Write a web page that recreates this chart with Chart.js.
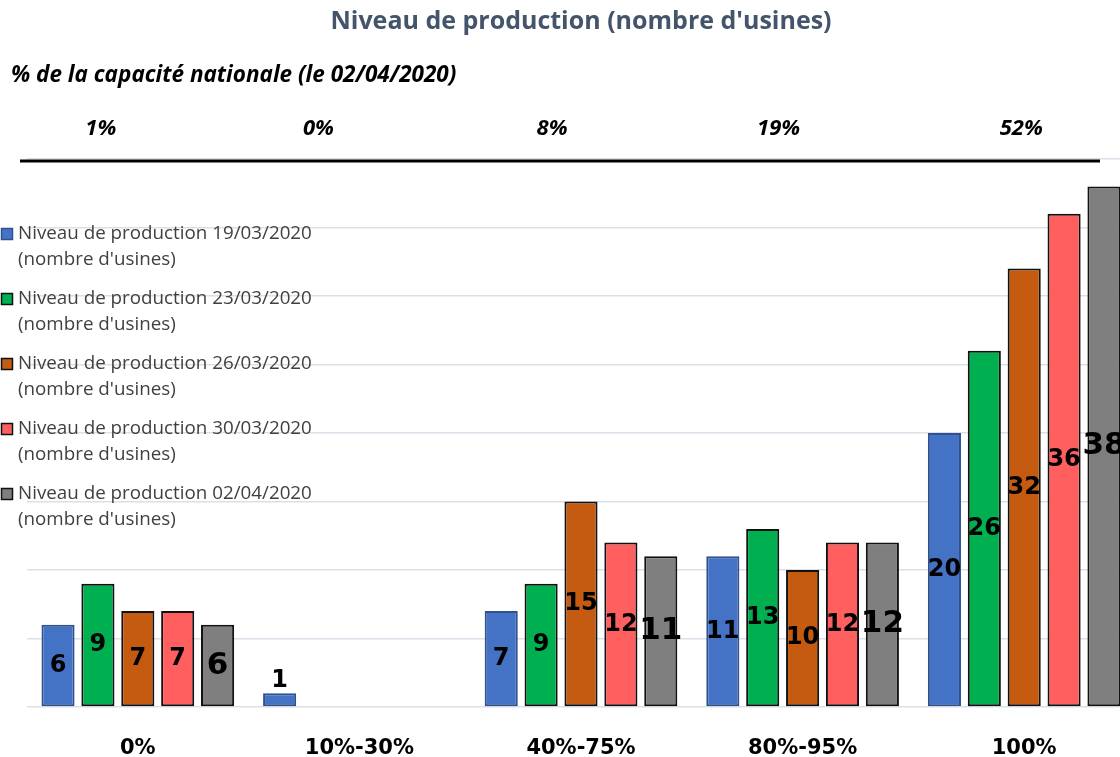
<!DOCTYPE html>
<html>
<head>
<meta charset="utf-8">
<script src="https://cdn.jsdelivr.net/npm/chart.js@4"></script>
<style>
  html, body { margin: 0; padding: 0; background: #fff; overflow: hidden; }
  #wrap { width: 1135px; height: 757px; position: relative; }
</style>
</head>
<body>
<div id="wrap"><canvas id="prodChart"></canvas></div>
<script>
// values
const categories = ['0%', '10%-30%', '40%-75%', '80%-95%', '100%'];
const capacityShare = ['1%', '0%', '8%', '19%', '52%'];
const seriesNames = [
  "Niveau de production 19/03/2020 (nombre d'usines)",
  "Niveau de production 23/03/2020 (nombre d'usines)",
  "Niveau de production 26/03/2020 (nombre d'usines)",
  "Niveau de production 30/03/2020 (nombre d'usines)",
  "Niveau de production 02/04/2020 (nombre d'usines)"
];
const prod1903 = [6, 1, 7, 11, 20];
const prod2303 = [9, 0, 9, 13, 26];
const prod2603 = [7, 0, 15, 10, 32];
const prod3003 = [7, 0, 12, 12, 36];
const prod0204 = [6, 0, 11, 12, 38];

const fills = ['#4472c4', '#00b050', '#c55a11', '#ff5f5f', '#7f7f7f'];
const edges = ['#2f528f', '#111111', '#111111', '#111111', '#111111'];
const FONT = '"Open Sans", "Noto Sans", sans-serif';
const WIDE = '"DejaVu Sans", Verdana, sans-serif';

const seriesData = [prod1903, prod2303, prod2603, prod3003, prod0204];

// draws titles, top % row, black rule, the left legend and the value labels
const decorations = {
  id: 'decorations',
  afterDatasetsDraw(chart) {
    const { ctx } = chart;
    const x = chart.scales.x, y = chart.scales.y;

    // value labels inside the bars
    chart.data.datasets.forEach((ds, di) => {
      const meta = chart.getDatasetMeta(di);
      meta.data.forEach((bar, i) => {
        const v = ds.data[i];
        if (!v) return;
        ctx.save();
        ctx.fillStyle = '#000';
        ctx.textAlign = 'center';
        ctx.font = (di === 4 ? 'bold 31px ' : 'bold 24px ') + WIDE;
        if (v < 3) {
          ctx.textBaseline = 'bottom';
          ctx.fillText(v, bar.x, bar.y - 1);
        } else {
          ctx.textBaseline = 'middle';
          ctx.fillText(v, bar.x, (bar.y + bar.base) / 2);
        }
        ctx.restore();
      });
    });

    ctx.save();
    // title
    ctx.fillStyle = '#44546a';
    ctx.font = 'bold 25px ' + FONT;
    ctx.textAlign = 'center';
    ctx.textBaseline = 'middle';
    ctx.fillText("Niveau de production (nombre d'usines)", 581, 22);

    // subtitle
    ctx.fillStyle = '#000';
    ctx.font = 'italic bold 22.5px ' + FONT;
    ctx.textAlign = 'left';
    ctx.fillText('% de la capacité nationale (le 02/04/2020)', 11, 76);

    // national capacity share per category
    const shift = [-37, -41, -29, -24, -3];
    ctx.textAlign = 'center';
    ctx.font = 'italic bold 22px ' + FONT;
    capacityShare.forEach((t, i) => {
      ctx.fillText(t, x.getPixelForValue(i) + shift[i], 129);
    });

    // black rule at the top of the plot
    const yTop = y.getPixelForValue(40) + 2;
    ctx.strokeStyle = '#000';
    ctx.lineWidth = 3;
    ctx.beginPath();
    ctx.moveTo(20, yTop);
    ctx.lineTo(1100, yTop);
    ctx.stroke();

    // legend on the left
    ctx.font = '18.8px ' + FONT;
    ctx.textBaseline = 'middle';
    ctx.textAlign = 'left';
    chart.data.datasets.forEach((ds, i) => {
      const cy = 234 + i * 65;
      ctx.fillStyle = fills[i];
      ctx.fillRect(1.5, cy - 5.5, 11, 11);
      ctx.strokeStyle = edges[i];
      ctx.lineWidth = 1.5;
      ctx.strokeRect(1.5, cy - 5.5, 11, 11);
      ctx.fillStyle = '#404040';
      const cut = ds.label.indexOf(' (');
      ctx.fillText(ds.label.slice(0, cut), 18, cy);
      ctx.fillText(ds.label.slice(cut + 1), 18, cy + 26);
    });
    ctx.restore();
  }
};

new Chart(document.getElementById('prodChart'), {
  type: 'bar',
  data: {
    labels: categories,
    datasets: seriesNames.map((name, i) => ({
      label: name,
      data: seriesData[i],
      backgroundColor: fills[i],
      borderColor: edges[i],
      borderWidth: c => (c.raw ? 2 : 0),
      borderSkipped: false,
      categoryPercentage: 0.9,
      barPercentage: 0.83
    }))
  },
  options: {
    responsive: true,
    maintainAspectRatio: false,
    animation: false,
    layout: { padding: { top: 159, left: 0, right: 0, bottom: 0 } },
    plugins: {
      legend: { display: false },
      title: { display: false },
      tooltip: { enabled: false }
    },
    scales: {
      x: {
        grid: { display: false },
        border: { display: false },
        ticks: {
          color: '#000',
          padding: 21,
          font: { family: WIDE, size: 21, weight: 'bold' }
        },
        afterFit: s => { s.height = 50; }
      },
      y: {
        min: 0,
        max: 40,
        ticks: { display: false, stepSize: 5 },
        border: { display: false },
        grid: { color: '#dadfe8', lineWidth: 1.5, drawTicks: false },
        afterFit: s => { s.width = 27; }
      }
    }
  },
  plugins: [decorations]
});
</script>
</body>
</html>
